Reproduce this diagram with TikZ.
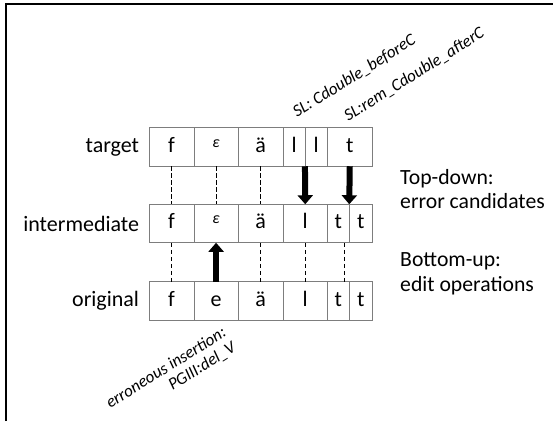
\documentclass[tikz,border=0pt]{standalone}
\usepackage{fontspec}
\setmainfont{Carlito}
\usetikzlibrary{positioning, arrows.meta, calc}
\definecolor{CellLine}{RGB}{125, 125, 125}
\definecolor{Ink}{RGB}{0, 0, 0}

\tikzset{
    cell/.style={draw=CellLine, line width=0.8pt, outer sep=0pt, inner sep=0pt,
        minimum height=38.5pt, text height=15pt, text depth=4.5pt,
        font=\fontsize{22}{26}\selectfont},
    rowlabel/.style={inner sep=0pt, font=\fontsize{22}{26}\selectfont},
    sidenote/.style={anchor=west, inner sep=0pt, align=left, font=\fontsize{21.7}{24.5}\selectfont},
    oplabel/.style={inner sep=0pt, rotate=32, font=\fontsize{17}{18}\selectfont\itshape},
    gapline/.style={draw=Ink, dash pattern=on 4.5pt off 2.5pt, line width=1.2pt},
    editarrow/.style={draw=Ink, line width=6pt, -{Triangle[width=15pt,length=9pt]}}
}
\newcommand{\eps}{\raisebox{5pt}{\fontsize{16}{16}\selectfont\itshape ε}}

\begin{document}
\begin{tikzpicture}[x=1pt, y=-1pt]
        \useasboundingbox (0,0) rectangle (553,421);
        % Cropped frame: top and left edge only
        \draw[line width=2pt] (6,421) -- (6,4) -- (553,4);

        % Target row
        \node[cell, minimum width=44.7pt] (t1) at (171.6,147) {f};
        \node[cell, minimum width=44.3pt, right=0pt of t1] (t2) {\eps};
        \node[cell, minimum width=45pt, right=0pt of t2] (t3) {ä};
        \node[cell, minimum width=21.7pt, right=0pt of t3] (t4) {l};
        \node[cell, minimum width=22.3pt, right=0pt of t4] (t5) {l};
        \node[cell, minimum width=45pt, right=0pt of t5] (t6) {t};

        % Intermediate row
        \node[cell, minimum width=44.7pt] (i1) at (171.6,223.5) {f};
        \node[cell, minimum width=44.3pt, right=0pt of i1] (i2) {\eps};
        \node[cell, minimum width=45pt, right=0pt of i2] (i3) {ä};
        \node[cell, minimum width=44pt, right=0pt of i3] (i4) {l};
        \node[cell, minimum width=22pt, right=0pt of i4] (i5) {t};
        \node[cell, minimum width=23pt, right=0pt of i5] (i6) {t};

        % Original row
        \node[cell, minimum width=44.7pt] (o1) at (171.6,301) {f};
        \node[cell, minimum width=44.3pt, right=0pt of o1] (o2) {e};
        \node[cell, minimum width=45pt, right=0pt of o2] (o3) {ä};
        \node[cell, minimum width=44pt, right=0pt of o3] (o4) {l};
        \node[cell, minimum width=22pt, right=0pt of o4] (o5) {t};
        \node[cell, minimum width=23pt, right=0pt of o5] (o6) {t};

        % Row names
        \node[rowlabel, left=10pt of t1] (target) {target};
        \node[rowlabel, left=10pt of i1] (intermediate) {intermediate};
        \node[rowlabel, left=10pt of o1] (original) {original};

        % Top-down: target -> intermediate
        \draw[gapline] (t1) -- (i1);
        \draw[gapline] (t2) -- (i2);
        \draw[gapline] (t3) -- (i3);
        \draw[editarrow] (t4.south east) -- (i4.north);
        \draw[editarrow] (t6.south) -- (i5.north east);

        % Bottom-up: original -> intermediate
        \draw[gapline] (i1) -- (o1);
        \draw[editarrow] (o2) -- (i2);
        \draw[gapline] (i3) -- (o3);
        \draw[gapline] (i4) -- (o4);
        \draw[gapline] ([xshift=6.5pt]i5.south) -- ([xshift=6.5pt]o5.north);

        % Operation labels
        \node[oplabel, anchor=base west] (beforeC) at ($(t4.north east)+(-8,-10)$) {SL: Cdouble\_beforeC};
        \node[oplabel, anchor=base west] (afterC) at ($(t6.north)+(-1.5,-6)$) {SL:rem\_Cdouble\_afterC};
        \node[oplabel, anchor=north east, align=right] (delV) at ($(o2.south)+(5,5)$) {erroneous insertion:\\PGIII:del\_V};

        % Direction notes
        \node[sidenote] (topdown) at (400,189) {Top-down:\\error candidates};
        \node[sidenote] (bottomup) at (400,274) {Bottom-up:\\edit operations};
    \end{tikzpicture}
\end{document}
